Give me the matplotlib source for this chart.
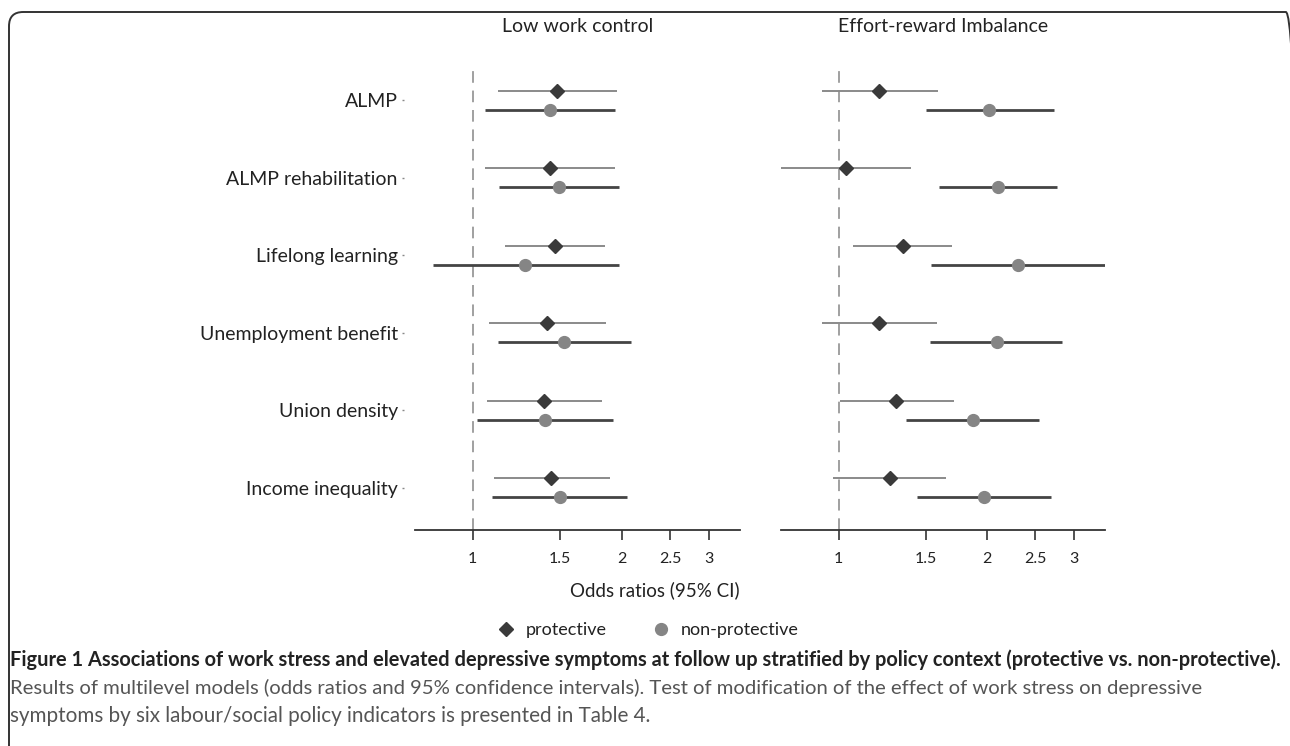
import matplotlib
matplotlib.use("Agg")
import matplotlib.pyplot as plt
from matplotlib.lines import Line2D
from matplotlib.patches import FancyBboxPatch
import numpy as np

plt.rcParams['font.family'] = ['Lato', 'DejaVu Sans']

categories = ["ALMP", "ALMP rehabilitation", "Lifelong learning",
              "Unemployment benefit", "Union density", "Income inequality"]
panel_titles = ["Low work control", "Effort-reward Imbalance"]

# Low work control
lwc_prot_or = [1.48, 1.433, 1.464, 1.415, 1.39, 1.44]
lwc_prot_lo = [1.125, 1.061, 1.164, 1.079, 1.07, 1.104]
lwc_prot_hi = [1.95, 1.94, 1.85, 1.86, 1.82, 1.89]
lwc_non_or = [1.435, 1.49, 1.275, 1.53, 1.40, 1.50]
lwc_non_lo = [1.057, 1.13, 0.83, 1.125, 1.019, 1.096]
lwc_non_hi = [1.94, 1.97, 1.97, 2.09, 1.92, 2.05]

# Effort-reward imbalance
eri_prot_or = [1.21, 1.036, 1.35, 1.21, 1.31, 1.27]
eri_prot_lo = [0.924, 0.766, 1.072, 0.928, 1.006, 0.974]
eri_prot_hi = [1.59, 1.40, 1.70, 1.58, 1.71, 1.65]
eri_non_or = [2.02, 2.10, 2.31, 2.09, 1.87, 1.97]
eri_non_lo = [1.50, 1.60, 1.54, 1.53, 1.37, 1.44]
eri_non_hi = [2.73, 2.77, 3.47, 2.83, 2.55, 2.69]

xticks = [1, 1.5, 2, 2.5, 3]
xtick_labels = ["1", "1.5", "2", "2.5", "3"]
legend_labels = ["protective", "non-protective"]

caption_lines = [
    "Figure 1 Associations of work stress and elevated depressive symptoms at follow up "
    "stratified by policy context (protective vs. non-protective).",
    "Results of multilevel models (odds ratios and 95% confidence intervals). Test of "
    "modification of the effect of work stress on depressive",
    "symptoms by six labour/social policy indicators is presented in Table 4.",
]

W, H = 1290, 746
fig = plt.figure(figsize=(W / 100, H / 100), dpi=100)

# frame
frame = FancyBboxPatch((9 / W, -0.05), (1300 - 9) / W, 1 - 12 / H + 0.05,
                       boxstyle="round,pad=0,rounding_size=0.011",
                       transform=fig.transFigure, fill=False,
                       edgecolor="#333333", linewidth=1.4, mutation_aspect=W / H)
fig.patches.append(frame)

ax_bottom = 1 - 530 / H
ax_height = (530 - 60) / H
axes = [fig.add_axes([415 / W, ax_bottom, 325 / W, ax_height]),
        fig.add_axes([781 / W, ax_bottom, 324 / W, ax_height])]

data = [
    (lwc_prot_or, lwc_prot_lo, lwc_prot_hi, lwc_non_or, lwc_non_lo, lwc_non_hi),
    (eri_prot_or, eri_prot_lo, eri_prot_hi, eri_non_or, eri_non_lo, eri_non_hi),
]

ypos = np.arange(len(categories))
off = 0.123
prot_line = "#8a8a8a"
prot_mark = "#3a3a3a"
non_line = "#444444"
non_mark = "#858585"

for k, ax in enumerate(axes):
    por, plo, phi, nor, nlo, nhi = data[k]
    ax.axvline(1, ymin=0, ymax=(530 - 65) / 470, color="#a0a0a0", lw=1.4,
               dashes=(6, 4), zorder=1)
    ax.hlines(ypos - off, plo, phi, color=prot_line, lw=1.4, zorder=2)
    ax.plot(por, ypos - off, ls="none", marker="D", ms=7.5, color=prot_mark, zorder=3)
    ax.hlines(ypos + off, nlo, nhi, color=non_line, lw=2.0, zorder=2)
    ax.plot(nor, ypos + off, ls="none", marker="o", ms=8.5, color=non_mark, zorder=3)

    ax.set_xscale("log")
    ax.set_xlim(0.765, 3.46)
    ax.set_ylim(5.549, -0.523)
    ax.set_xticks(xticks)
    ax.set_xticklabels(xtick_labels)
    ax.xaxis.set_minor_locator(matplotlib.ticker.NullLocator())
    ax.tick_params(axis="x", length=7, width=1.2, color="#333333",
                   labelsize=11.5, labelcolor="#222222", pad=9)
    for s in ["top", "right", "left"]:
        ax.spines[s].set_visible(False)
    ax.spines["bottom"].set_color("#333333")
    ax.spines["bottom"].set_linewidth(1.3)
    ax.patch.set_visible(False)
    ax.set_title(panel_titles[k], fontsize=14, color="#222222", pad=0,
                 y=1 + 28 / 470)
    if k == 0:
        ax.spines["left"].set_position(("outward", 8))
        ax.set_yticks(ypos)
        ax.set_yticklabels(categories)
        ax.tick_params(axis="y", length=1.5, width=1.0, color="#888888",
                       labelsize=14, labelcolor="#222222", pad=3)
    else:
        ax.set_yticks([])

fig.text(655 / W, 1 - 590 / H, "Odds ratios (95% CI)", ha="center", va="center",
         fontsize=13.5, color="#222222")

handles = [Line2D([], [], ls="none", marker="D", ms=7.5, color=prot_mark),
           Line2D([], [], ls="none", marker="o", ms=8.5, color=non_mark)]
fig.legend(handles, legend_labels, loc="center", bbox_to_anchor=(648 / W, 1 - 630 / H),
           ncol=2, frameon=False, fontsize=13, handlelength=1.0, handletextpad=0.6,
           columnspacing=2.5, labelcolor="#222222")

# caption, sized to fit the widths seen in the reference
renderer = fig.canvas.get_renderer()
targets = [(660, 1285, "bold", "#222222"),
           (688, 1205, "normal", "#555555"),
           (716, 652, "normal", "#555555")]
for line, (ypx, right, weight, col) in zip(caption_lines, targets):
    t = fig.text(10 / W, 1 - ypx / H, line, ha="left", va="center", fontsize=14,
                 fontweight=weight, color=col, family=["Lato", "DejaVu Sans"])
    w = t.get_window_extent(renderer).width
    t.set_fontsize(14 * (right - 10) / w)

fig.savefig("out.png", dpi=100)
